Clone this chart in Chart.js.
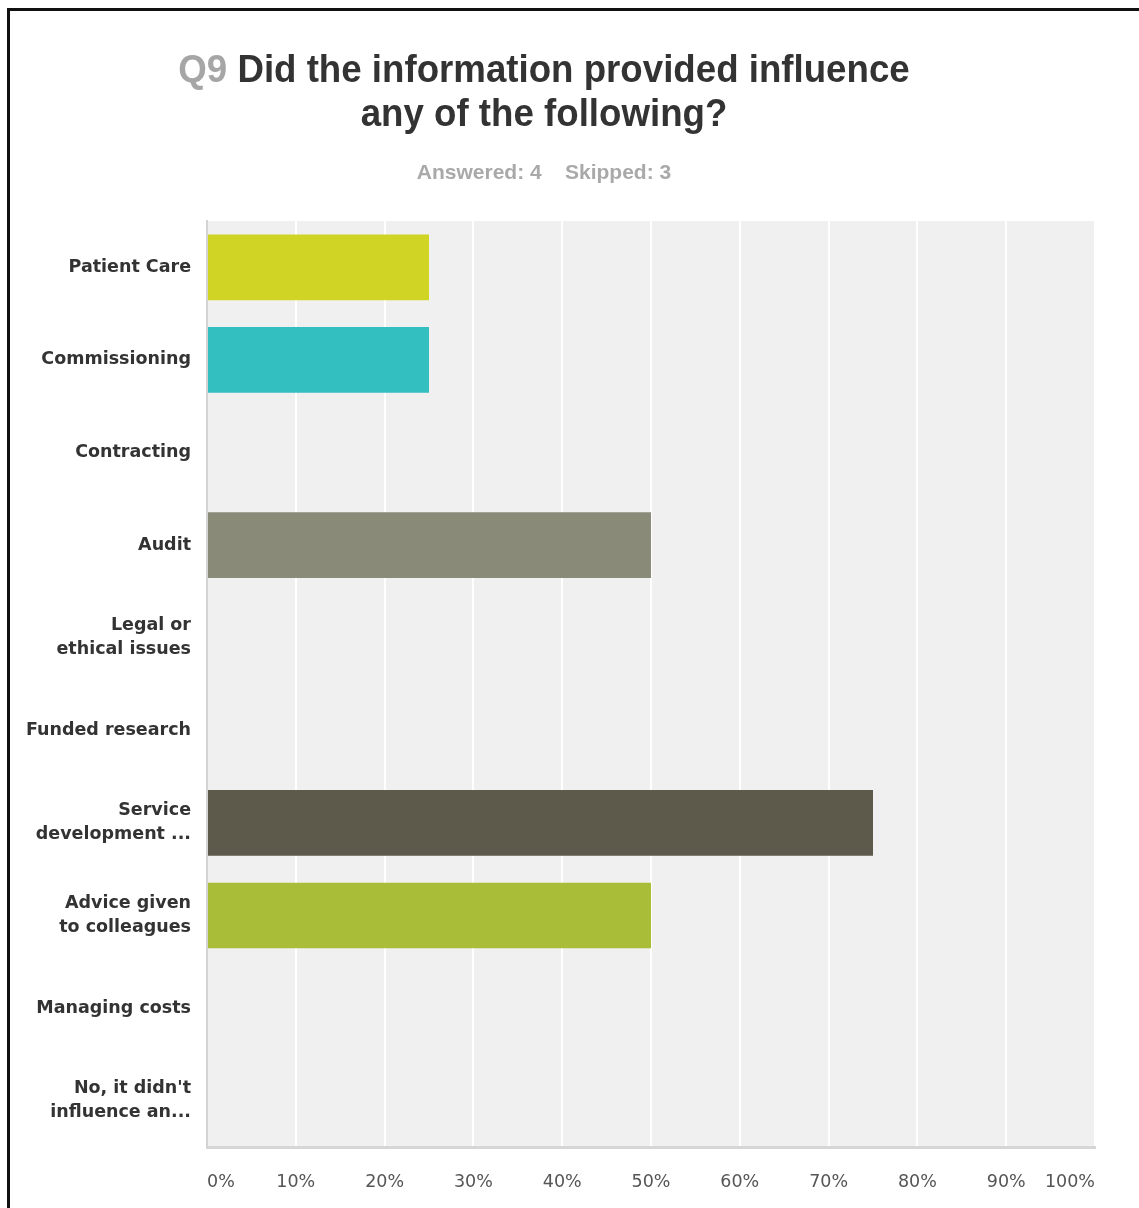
<!DOCTYPE html>
<html>
<head>
<meta charset="utf-8">
<script src="https://cdn.jsdelivr.net/npm/chart.js@4.4.1/dist/chart.umd.min.js"></script>
<style>
  html, body { margin: 0; padding: 0; background: #fff; overflow: hidden; }
  #frame {
    position: absolute; left: 7px; top: 8px; width: 1300px; height: 1400px;
    border-left: 3px solid #111; border-top: 3px solid #111;
  }
  #wrap { position: absolute; left: 0; top: 0; width: 1139px; height: 1208px; }
  #title {
    position: absolute; left: 0; top: 47px; width: 1088px; text-align: center;
    font-family: "Liberation Sans", sans-serif; font-weight: bold;
    font-size: 38px; line-height: 44px; color: #333;
    transform: scaleX(0.965); transform-origin: 544px 0;
  }
  #title .q { color: #a6a6a6; }
  #sub {
    position: absolute; left: 0; top: 160px; width: 1088px; text-align: center;
    font-family: "Liberation Sans", sans-serif; font-weight: bold;
    font-size: 21px; color: #a9a9a9;
  }
</style>
</head>
<body>
<div id="frame"></div>
<div id="wrap">
  <canvas id="chart" width="1139" height="1208"></canvas>
  <div id="title"><span class="q">Q9</span> Did the information provided influence<br>any of the following?</div>
  <div id="sub">Answered: 4&nbsp;&nbsp;&nbsp; Skipped: 3</div>
</div>
<script>
const categories = [
  'Patient Care',
  'Commissioning',
  'Contracting',
  'Audit',
  ['Legal or', 'ethical issues'],
  'Funded research',
  ['Service', 'development ...'],
  ['Advice given', 'to colleagues'],
  'Managing costs',
  ["No, it didn't", 'influence an...'],
];
const percentages = [25, 25, 0, 50, 0, 0, 75, 50, 0, 0];
const barColors = [
  '#d0d424', '#33bec0', '#898a78', '#898a78', '#898a78',
  '#898a78', '#5d5a4b', '#a9bd38', '#a9bd38', '#a9bd38',
];
const xTicks = [0, 10, 20, 30, 40, 50, 60, 70, 80, 90, 100];

const plotBackground = {
  id: 'plotBackground',
  beforeDraw(chart) {
    const { ctx, chartArea: a } = chart;
    ctx.save();
    ctx.fillStyle = '#f0f0f0';
    ctx.fillRect(a.left, a.top, a.right - a.left, a.bottom - a.top);
    ctx.restore();
  }
};

new Chart(document.getElementById('chart'), {
  type: 'bar',
  data: {
    labels: categories,
    datasets: [{
      data: percentages,
      backgroundColor: barColors,
      borderWidth: 0,
      categoryPercentage: 1,
      barPercentage: 0.71,
    }],
  },
  options: {
    indexAxis: 'y',
    responsive: false,
    animation: false,
    layout: { padding: { top: 221, right: 44, bottom: 0, left: 0 } },
    plugins: {
      legend: { display: false },
      tooltip: { enabled: false },
    },
    scales: {
      x: {
        min: 0,
        max: 100,
        afterBuildTicks(axis) {
          axis.ticks = xTicks.map(v => ({ value: v }));
        },
        afterFit(axis) { axis.height = 61; },
        grid: { color: '#ffffff', lineWidth: 2, drawTicks: false },
        border: { display: true, color: '#d6d6d6', width: 3 },
        ticks: {
          align: 'inner',
          padding: 25,
          color: '#555',
          font: { family: 'DejaVu Sans', size: 17.5 },
          callback: v => v + '%',
        },
      },
      y: {
        afterFit(axis) { axis.width = 207; },
        grid: { display: false, drawTicks: false },
        border: { display: true, color: '#d3d3d3', width: 2 },
        ticks: {
          padding: 16,
          color: '#333',
          font: { family: 'DejaVu Sans', weight: 'bold', size: 17.5, lineHeight: 1.37 },
        },
      },
    },
  },
  plugins: [plotBackground],
});
</script>
</body>
</html>
